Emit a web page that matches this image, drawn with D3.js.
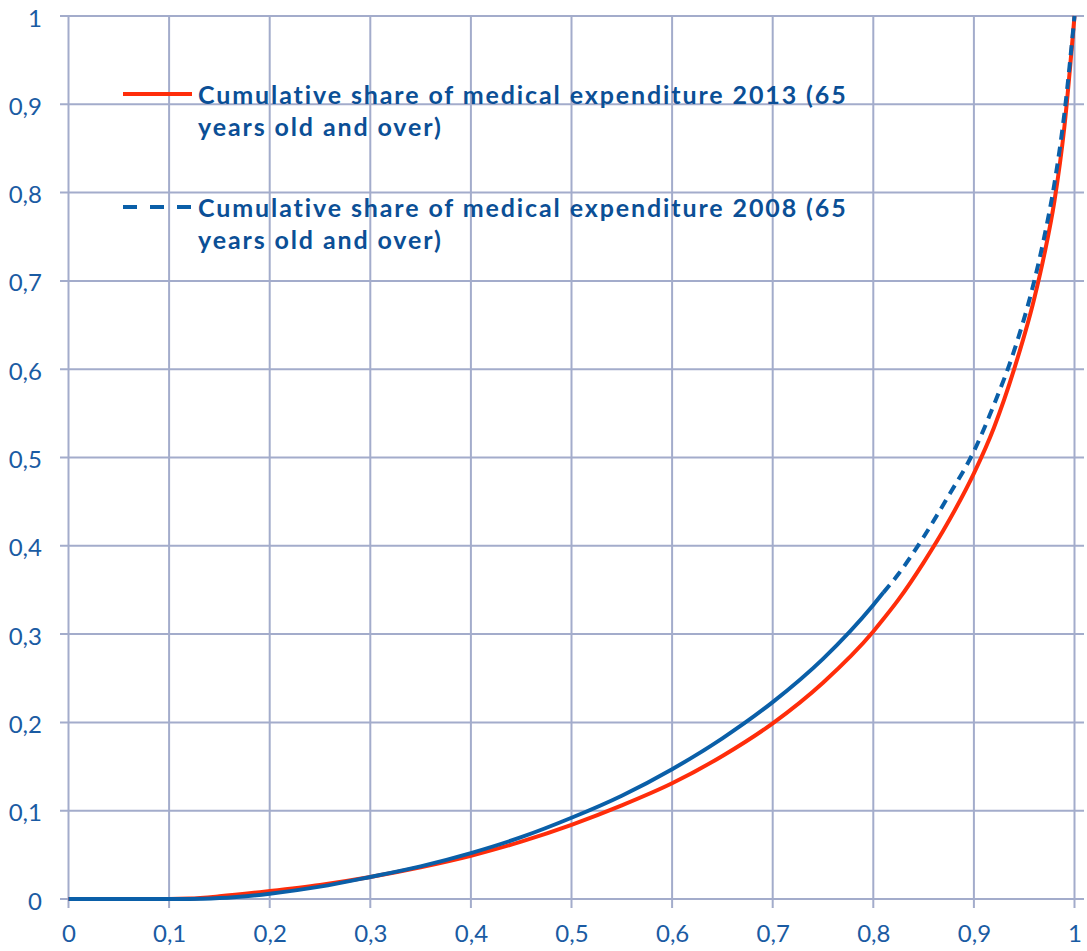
<!DOCTYPE html>
<html>
<head>
<meta charset="utf-8">
<script src="https://cdn.jsdelivr.net/npm/d3@7"></script>
<style>
  html, body { margin: 0; padding: 0; background: #fff; }
  svg { display: block; }
</style>
</head>
<body>
<svg id="chart" width="1087" height="951"></svg>
<script>
// ---- data ----
const shareX = [0, 0.05, 0.1, 0.12, 0.15, 0.2, 0.25, 0.3, 0.35, 0.4, 0.45, 0.5, 0.55, 0.6, 0.65, 0.7, 0.75, 0.8, 0.81, 0.825, 0.85, 0.875, 0.9, 0.92, 0.94, 0.96, 0.97, 0.98, 0.99, 1];
const exp2013 = [0, 0, 0, 0.0005, 0.003, 0.009, 0.016, 0.025, 0.036, 0.049, 0.065, 0.084, 0.106, 0.131, 0.162, 0.199, 0.245, 0.303, 0.317, 0.339, 0.381, 0.428, 0.482, 0.534, 0.6, 0.68, 0.73, 0.79, 0.875, 1];
const exp2008 = [0, 0, 0, 0, 0.001, 0.006, 0.014, 0.025, 0.037, 0.052, 0.07, 0.092, 0.117, 0.147, 0.182, 0.223, 0.272, 0.333, 0.347, 0.368, 0.41, 0.457, 0.507, 0.56, 0.621, 0.70, 0.75, 0.81, 0.89, 1];
const dashFrom2008 = 0.81;
const xTicks = [0, 0.1, 0.2, 0.3, 0.4, 0.5, 0.6, 0.7, 0.8, 0.9, 1];
const xTickLabels = ["0", "0,1", "0,2", "0,3", "0,4", "0,5", "0,6", "0,7", "0,8", "0,9", "1"];
const yTicks = [0, 0.1, 0.2, 0.3, 0.4, 0.5, 0.6, 0.7, 0.8, 0.9, 1];
const yTickLabels = ["0", "0,1", "0,2", "0,3", "0,4", "0,5", "0,6", "0,7", "0,8", "0,9", "1"];
const legend2013 = ["Cumulative share of medical expenditure 2013 (65", "years old and over)"];
const legend2008 = ["Cumulative share of medical expenditure 2008 (65", "years old and over)"];

// ---- styles ----
const gridColor = "#A3ACCB";
const red = "#FF2D0A";
const blue = "#0A5FA8";
const textBlue = "#0B4F96";
const labelBlue = "#1A5BA3";
const font = "Lato, 'Open Sans', sans-serif";

const svg = d3.select("#chart");
const x = d3.scaleLinear().domain([0, 1]).range([68.5, 1074.5]);
const y = d3.scaleLinear().domain([0, 1]).range([899, 16]);

// grid
const grid = svg.append("g").attr("stroke", gridColor).attr("stroke-width", 2);
grid.selectAll("line.v").data(xTicks).join("line")
  .attr("class", "v")
  .attr("x1", d => x(d)).attr("x2", d => x(d))
  .attr("y1", y(1)).attr("y2", y(0) + 9);
grid.selectAll("line.h").data(yTicks).join("line")
  .attr("class", "h")
  .attr("x1", x(0) - 8.5).attr("x2", 1084)
  .attr("y1", d => y(d)).attr("y2", d => y(d));

// axes (labels only)
const xAxis = d3.axisBottom(x).tickValues(xTicks)
  .tickFormat((d, i) => xTickLabels[i]).tickSize(0).tickPadding(17);
const gx = svg.append("g").attr("transform", `translate(0,${y(0) + 9})`).call(xAxis);
const yAxis = d3.axisLeft(y).tickValues(yTicks)
  .tickFormat((d, i) => yTickLabels[i]).tickSize(0).tickPadding(18);
const gy = svg.append("g").attr("transform", `translate(${x(0) - 8.5},0)`).call(yAxis);
[gx, gy].forEach(g => {
  g.select(".domain").remove();
  g.selectAll("text").attr("fill", labelBlue).style("font-family", font).style("font-size", "24px");
});
gy.selectAll("text").attr("dy", "0.42em");

// lines
const pts2013 = shareX.map((d, i) => [d, exp2013[i]]);
const pts2008 = shareX.map((d, i) => [d, exp2008[i]]);
const line = d3.line().x(d => x(d[0])).y(d => y(d[1])).curve(d3.curveMonotoneX);

svg.append("path").attr("d", line(pts2013))
  .attr("fill", "none").attr("stroke", red).attr("stroke-width", 4)
  .attr("stroke-linejoin", "round");
svg.append("path").attr("d", line(pts2008.filter(d => d[0] <= dashFrom2008)))
  .attr("fill", "none").attr("stroke", blue).attr("stroke-width", 4)
  .attr("stroke-linejoin", "round");
svg.append("path").attr("d", line(pts2008.filter(d => d[0] >= dashFrom2008)))
  .attr("fill", "none").attr("stroke", blue).attr("stroke-width", 4)
  .attr("stroke-dasharray", "10,7");

// legend
function legendItem(lines, yLine, color, dash) {
  const g = svg.append("g");
  g.append("line").attr("x1", 123).attr("x2", 192).attr("y1", yLine).attr("y2", yLine)
    .attr("stroke", color).attr("stroke-width", 4)
    .attr("stroke-dasharray", dash || null);
  const t = g.append("text").attr("fill", textBlue)
    .style("font-family", font).style("font-weight", "bold").style("font-size", "25px");
  lines.forEach((s, i) => {
    t.append("tspan").attr("x", 198).attr("y", yLine + 10 + i * 32).text(s);
  });
  // widen letter spacing so the first line spans ~650px like the reference
  const first = t.select("tspan");
  const w = first.node().getComputedTextLength();
  const n = lines[0].length;
  const ls = Math.max(0, Math.min(2.5, (650 - w) / n));
  t.style("letter-spacing", ls + "px");
}
legendItem(legend2013, 94, red, null);
legendItem(legend2008, 207, blue, "14,13");
</script>
</body>
</html>
